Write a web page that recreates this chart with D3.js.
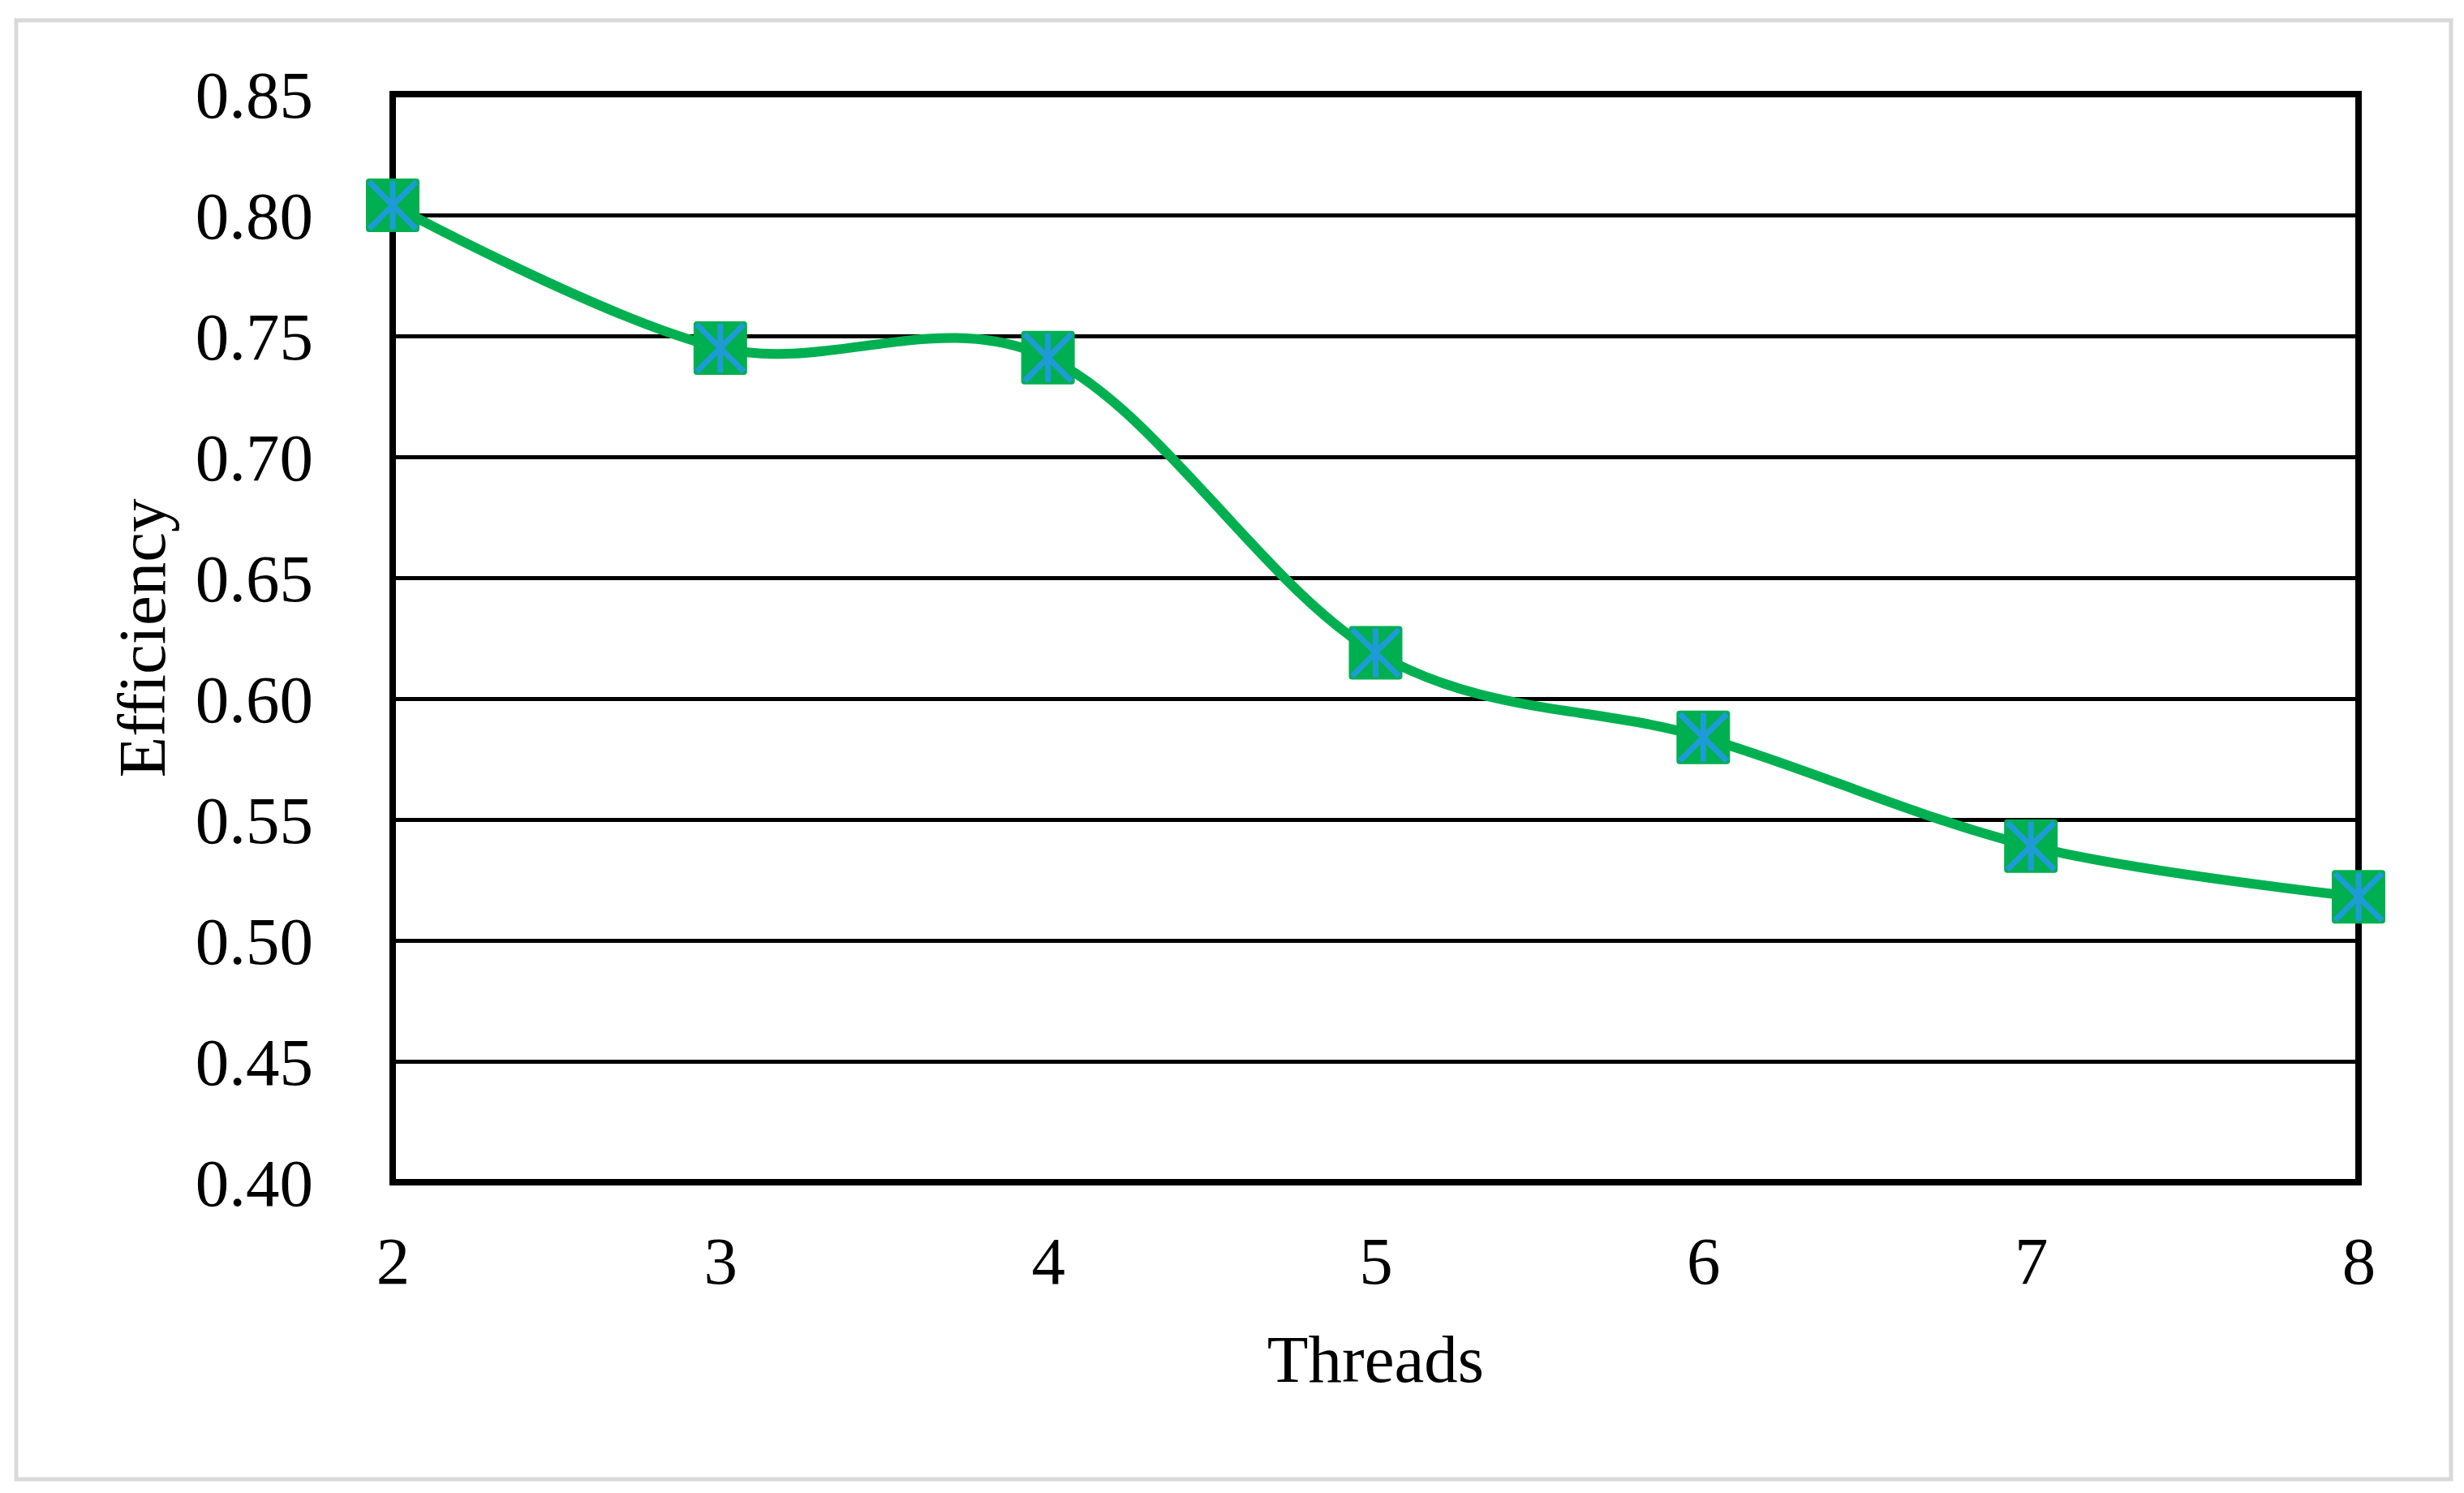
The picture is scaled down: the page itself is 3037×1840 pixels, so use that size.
<!DOCTYPE html>
<html>
<head>
<meta charset="utf-8">
<script src="https://cdn.jsdelivr.net/npm/d3@7"></script>
<style>
  html, body { margin: 0; padding: 0; background: #ffffff; }
  svg { display: block; }
  text { font-family: "Liberation Serif", "Times New Roman", serif; fill: #000; }
</style>
</head>
<body>
<svg id="chart" width="3037" height="1840"></svg>
<script>
// ---- Data ----
const threads = [2, 3, 4, 5, 6, 7, 8];
const efficiency = [0.804, 0.745, 0.741, 0.619, 0.584, 0.539, 0.518];
const yTicks = [0.40, 0.45, 0.50, 0.55, 0.60, 0.65, 0.70, 0.75, 0.80, 0.85];
const xLabel = "Threads";
const yLabel = "Efficiency";

// ---- Layout ----
const W = 3037, H = 1840;
const plot = { left: 484, right: 2907, top: 116, bottom: 1457 };
const fontSize = 83;
const lineColor = "#00B050";
const starColor = "#1E9BD7";

const svg = d3.select("#chart");

// outer frame
svg.append("rect")
  .attr("x", 20).attr("y", 25)
  .attr("width", 3001).attr("height", 1798)
  .attr("fill", "#ffffff")
  .attr("stroke", "#D9D9D9")
  .attr("stroke-width", 5);

const x = d3.scalePoint().domain(threads).range([plot.left, plot.right]);
const y = d3.scaleLinear().domain([0.40, 0.85]).range([plot.bottom, plot.top]);

// gridlines
const grid = svg.append("g")
  .attr("transform", `translate(${plot.left},0)`)
  .call(d3.axisLeft(y).tickValues(yTicks).tickSize(-(plot.right - plot.left)).tickFormat(""));
grid.select(".domain").remove();
grid.selectAll(".tick line").attr("stroke", "#000").attr("stroke-width", 5);

// plot border
svg.append("rect")
  .attr("x", plot.left).attr("y", plot.top)
  .attr("width", plot.right - plot.left).attr("height", plot.bottom - plot.top)
  .attr("fill", "none").attr("stroke", "#000").attr("stroke-width", 8);

// y axis labels
const yAxis = svg.append("g")
  .attr("transform", `translate(${plot.left},0)`)
  .call(d3.axisLeft(y).tickValues(yTicks).tickFormat(d3.format(".2f")).tickSize(0).tickPadding(98));
yAxis.select(".domain").remove();
yAxis.selectAll("text")
  .attr("font-size", fontSize)
  .attr("font-family", "Liberation Serif")
  .attr("dy", "0.34em");

// x axis labels
const xAxis = svg.append("g")
  .attr("transform", `translate(0,${plot.bottom})`)
  .call(d3.axisBottom(x).tickSize(0).tickFormat(d3.format("d")));
xAxis.select(".domain").remove();
xAxis.selectAll("text")
  .attr("font-size", fontSize)
  .attr("font-family", "Liberation Serif")
  .attr("y", 125)
  .attr("dy", 0);

// axis titles
svg.append("text")
  .attr("x", (plot.left + plot.right) / 2)
  .attr("y", 1703)
  .attr("text-anchor", "middle")
  .attr("font-size", fontSize)
  .text(xLabel);

svg.append("text")
  .attr("transform", `translate(203,${(plot.top + plot.bottom) / 2}) rotate(-90)`)
  .attr("text-anchor", "middle")
  .attr("font-size", fontSize)
  .text(yLabel);

// series line
const pts = threads.map((t, i) => ({ t, v: efficiency[i] }));
const line = d3.line()
  .x(d => x(d.t))
  .y(d => y(d.v))
  .curve(d3.curveCatmullRom.alpha(0));

svg.append("path")
  .datum(pts)
  .attr("d", line)
  .attr("fill", "none")
  .attr("stroke", lineColor)
  .attr("stroke-width", 12)
  .attr("stroke-linejoin", "round");

// markers
const ms = 66, h = ms / 2;
const mk = svg.append("g").selectAll("g")
  .data(pts)
  .join("g")
  .attr("transform", d => `translate(${x(d.t)},${y(d.v)})`);

mk.append("rect")
  .attr("x", -h).attr("y", -h)
  .attr("width", ms).attr("height", ms)
  .attr("rx", 4)
  .attr("fill", lineColor);

const a = h - 4;
mk.append("path")
  .attr("d", `M${-a},${-a}L${a},${a}M${a},${-a}L${-a},${a}M0,${-(h - 3)}L0,${h - 3}`)
  .attr("stroke", starColor)
  .attr("stroke-width", 7)
  .attr("stroke-linecap", "butt")
  .attr("fill", "none");
</script>
</body>
</html>
